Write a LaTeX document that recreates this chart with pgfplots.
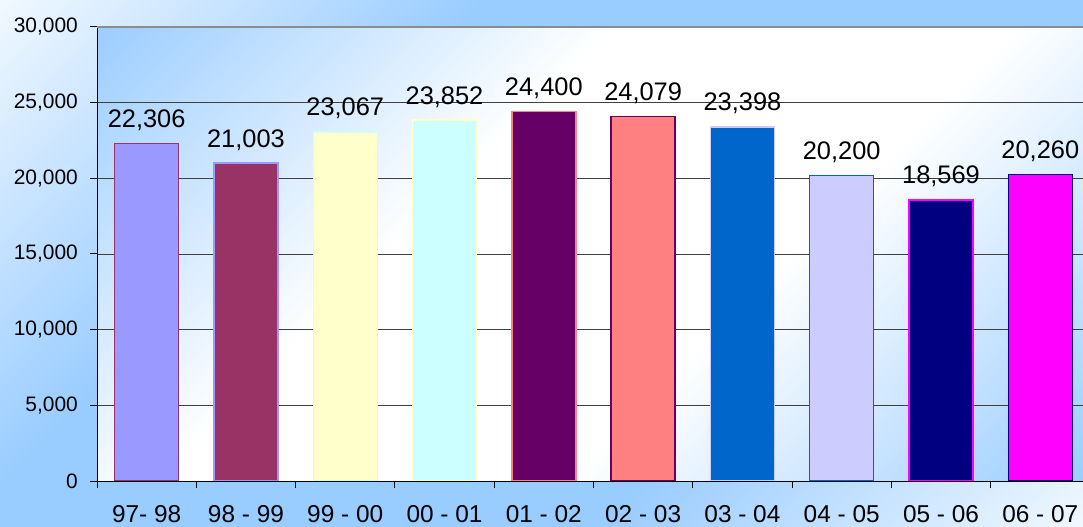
\documentclass[border=0pt]{standalone}
\usepackage{pgfplots}
\pgfplotsset{compat=1.18}
\usepackage{fontspec}
\setmainfont{Liberation Sans}
\definecolor{bgblue}{HTML}{99CCFF}
\definecolor{cA}{HTML}{9999FF}
\definecolor{cB}{HTML}{993366}
\definecolor{cC}{HTML}{FFFFCC}
\definecolor{cD}{HTML}{CCFFFF}
\definecolor{cE}{HTML}{660066}
\definecolor{cF}{HTML}{FF8080}
\definecolor{cG}{HTML}{0066CC}
\definecolor{cH}{HTML}{CCCCFF}
\definecolor{cI}{HTML}{000080}
\definecolor{cJ}{HTML}{FF00FF}
\pgfdeclareverticalshading{outerbg}{100bp}{color(0bp)=(bgblue!12); color(14bp)=(bgblue!12); color(36bp)=(bgblue); color(64bp)=(bgblue); color(86bp)=(bgblue!12); color(100bp)=(bgblue!12)}
\pgfdeclareverticalshading{plotbg}{100bp}{color(0bp)=(bgblue); color(14bp)=(bgblue); color(40bp)=(white); color(60bp)=(white); color(86bp)=(bgblue); color(100bp)=(bgblue)}
\begin{document}
\begin{tikzpicture}
\useasboundingbox (0,0) rectangle (1083bp,527bp);
\shade[shading=outerbg, shading angle=45] (0,0) rectangle (1083bp,527bp);
\begin{axis}[
  at={(97bp,46bp)}, anchor=south west,
  scale only axis, width=986bp, height=454bp,
  xmin=-0.5, xmax=9.43, ymin=0, ymax=30000,
  axis background/.style={shade, shading=plotbg, shading angle=45},
  axis x line*=bottom, axis y line*=left,
  axis line style={black, line width=1bp},
  tick align=outside, major tick length=7bp,
  tick style={black, line width=1bp},
  ytick={0,5000,...,30000},
  scaled y ticks=false,
  /pgf/number format/assume math mode=true,
  /pgf/number format/1000 sep={,},
  yticklabel style={anchor=east, inner sep=0pt, xshift=-12bp, font=\fontsize{21}{24}\selectfont},
  ymajorgrids, major grid style={black!75, line width=0.8bp},
  xtick={-0.5,0.5,...,8.5},
  xticklabels={,,,,,,,,,,},
  extra x ticks={0,1,2,3,4,5,6,7,8,9},
  extra x tick labels={97- 98, 98 - 99, 99 - 00, 00 - 01, 01 - 02, 02 - 03, 03 - 04, 04 - 05, 05 - 06, 06 - 07},
  extra x tick style={major tick length=0pt, tick label style={anchor=north, inner sep=0pt, yshift=-24bp, font=\fontsize{24.5}{26}\selectfont}},
  every axis plot/.append style={ybar, bar width=0.645, bar shift=0pt, line width=1.4bp},
  nodes near coords,
  every node near coord/.append style={anchor=base, yshift=16bp, inner sep=0pt, text=black, font=\fontsize{25.5}{28}\selectfont},
]
\draw[black!45, line width=1.6bp] (axis cs:-0.5,30000) -- (axis cs:9.43,30000);
\addplot[fill=cA, draw=cB] coordinates {(0,22306)};
\addplot[fill=cB, draw=cA] coordinates {(1,21003)};
\addplot[fill=cC, draw=cD] coordinates {(2,23067)};
\addplot[fill=cD, draw=cC] coordinates {(3,23852)};
\addplot[fill=cE, draw=cF] coordinates {(4,24400)};
\addplot[fill=cF, draw=cE] coordinates {(5,24079)};
\addplot[fill=cG, draw=cH] coordinates {(6,23398)};
\addplot[fill=cH, draw=cG] coordinates {(7,20200)};
\addplot[fill=cI, draw=cJ] coordinates {(8,18569)};
\addplot[fill=cJ, draw=cI] coordinates {(9,20260)};
\end{axis}
\end{tikzpicture}
\end{document}
